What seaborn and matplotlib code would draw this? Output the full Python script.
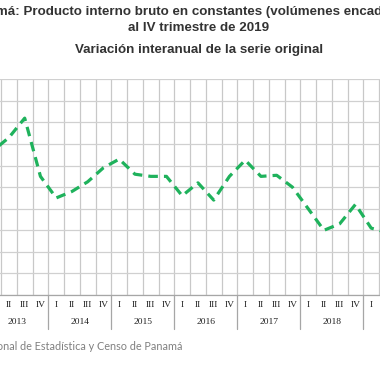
import numpy as np
import pandas as pd
import matplotlib.pyplot as plt
import seaborn as sns
from matplotlib.transforms import blended_transform_factory

# datos: variación interanual (%) por trimestre, 2013-I a 2019-IV
anios = [2013, 2014, 2015, 2016, 2017, 2018, 2019]
trimestres = ['I', 'II', 'III', 'IV']
variacion = [
    6.7, 7.3, 8.2, 5.5,     # 2013
    4.5, 4.8, 5.25, 5.9,    # 2014
    6.3, 5.6, 5.5, 5.5,     # 2015
    4.6, 5.2, 4.4, 5.5,     # 2016
    6.25, 5.5, 5.55, 5.0,   # 2017
    4.0, 3.0, 3.3, 4.2,     # 2018
    3.1, 2.9, 3.0, 3.3,     # 2019
]
titulo_1 = 'Panamá: Producto interno bruto en constantes (volúmenes encadenados)'
titulo_2 = 'al IV trimestre de 2019'
subtitulo = 'Variación interanual de la serie original'
fuente = 'Fuente: Instituto Nacional de Estadística y Censo de Panamá'

df = pd.DataFrame({
    'idx': np.arange(len(variacion)),
    'trimestre': trimestres * len(anios),
    'valor': variacion,
})

sns.set_theme(style='white')
plt.rcParams['font.family'] = ['Liberation Sans', 'DejaVu Sans']

W = H = 380
fig = plt.figure(figsize=(3.8, 3.8), dpi=100)

# el área de trazado sobresale del recorte a izquierda y derecha
y_top, y_bot = 79.3, 295.0
ax = fig.add_axes([0, (H - y_bot) / H, 1, (y_bot - y_top) / H])

sns.lineplot(data=df, x='idx', y='valor', ax=ax, color='#1fb25c',
             linewidth=2.3, linestyle=(0, (3.0, 1.9)))

ax.set_yticks(range(11))
ax.yaxis.grid(True, color='#d0d0d0', linewidth=0.9)
ax.set_xticks(np.arange(-0.5, len(variacion), 1), minor=True)
ax.xaxis.grid(True, which='minor', color='#c8c8c8', linewidth=0.9)
ax.xaxis.grid(False, which='major')

ax.set_xticks(df['idx'])
ax.set_xticklabels(df['trimestre'], family=['Liberation Serif'], fontsize=6.8,
                   color='#202020')
ax.tick_params(axis='x', which='both', length=0, pad=4.5)
ax.tick_params(axis='y', length=0, labelleft=False)
ax.set_xlabel('')
ax.set_ylabel('')

# límites después de fijar los ticks (set_xticks amplía la vista)
paso = 15.75     # px por trimestre
x0 = -6.8        # px del primer trimestre
ax.set_xlim(-x0 / paso, (W - x0) / paso)
ax.set_ylim(0, 10)

for s in ['left', 'right', 'top']:
    ax.spines[s].set_visible(False)
ax.spines['bottom'].set_color('#a6a6a6')
ax.spines['bottom'].set_linewidth(0.9)

# separadores y etiquetas de año
tr = blended_transform_factory(ax.transData, ax.transAxes)
alto = y_bot - y_top
for k, anio in enumerate(anios):
    ax.plot([4 * k - 0.5] * 2, [0, -34 / alto], transform=tr, clip_on=False,
            color='#a6a6a6', linewidth=0.9)
    ax.text(4 * k + 1.5, -26.7 / alto, str(anio), transform=tr,
            ha='center', va='center', family=['Liberation Serif'],
            fontsize=6.8, color='#202020')

# títulos
fig.text(199 / W, 1 - 12 / H, titulo_1, ha='center', va='center',
         fontweight='bold', fontsize=9.6, color='#333333')
fig.text(199 / W, 1 - 28 / H, titulo_2, ha='center', va='center',
         fontweight='bold', fontsize=9.6, color='#333333')
fig.text(199 / W, 1 - 50 / H, subtitulo, ha='center', va='center',
         fontweight='bold', fontsize=9.6, color='#333333')

fig.text(182 / W, 1 - 347 / H, fuente, ha='right', va='center',
         family=['Lato', 'DejaVu Sans'], fontsize=7.8, color='#808080')

fig.savefig('out.png', dpi=100)
plt.close(fig)
